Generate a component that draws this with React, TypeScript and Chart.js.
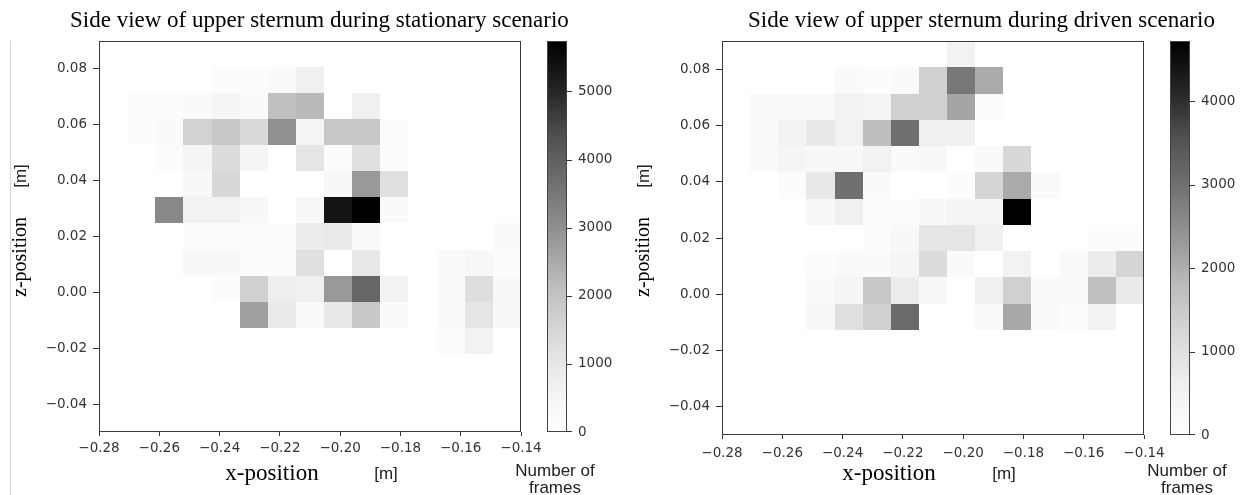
import React, { useEffect, useRef } from "react";
import { Chart, registerables } from "chart.js";

Chart.register(...registerables);

// ---------- data ----------
// histogram bin edges (15 bins on each axis)
const xBinEdges = [-0.28, -0.27067, -0.26133, -0.252, -0.24267, -0.23333, -0.224, -0.21467, -0.20533, -0.196, -0.18667, -0.17733, -0.168, -0.15867, -0.14933, -0.14];
const zBinEdges = [-0.05, -0.04067, -0.03133, -0.022, -0.01267, -0.00333, 0.006, 0.01533, 0.02467, 0.034, 0.04333, 0.05267, 0.062, 0.07133, 0.08067, 0.09];

// tick labels
const xTicks = [-0.28, -0.26, -0.24, -0.22, -0.2, -0.18, -0.16, -0.14];
const zTicks = [-0.04, -0.02, 0, 0.02, 0.04, 0.06, 0.08];
const stationaryBarTicks = [0, 1000, 2000, 3000, 4000, 5000];
const drivenBarTicks = [0, 1000, 2000, 3000, 4000];

const stationaryMax = 5740;
const drivenMax = 4720;

const stationaryTitle = "Side view of upper sternum during stationary scenario";
const drivenTitle = "Side view of upper sternum during driven scenario";

// counts (number of frames); rows from top z-bin (0.081..0.09) down to bottom (-0.05..-0.041),
// columns from x = -0.28 to x = -0.14
const stationaryCounts = [
  [0, 0, 0, 0, 0, 0, 0, 0, 0, 0, 0, 0, 0, 0, 0],
  [0, 0, 0, 0, 144, 144, 240, 718, 0, 0, 0, 0, 0, 0, 0],
  [0, 144, 144, 240, 478, 240, 2075, 2200, 0, 718, 0, 0, 0, 0, 0],
  [0, 144, 240, 1620, 1870, 1400, 3000, 478, 1870, 1870, 144, 0, 0, 0, 0],
  [0, 0, 144, 478, 1342, 478, 0, 1061, 144, 1217, 144, 0, 0, 0, 0],
  [0, 0, 0, 335, 1460, 0, 0, 0, 335, 2815, 1217, 0, 0, 0, 0],
  [0, 0, 3163, 622, 622, 335, 0, 335, 5355, 5740, 240, 0, 0, 0, 0],
  [0, 0, 0, 144, 144, 144, 144, 843, 900, 240, 0, 0, 0, 0, 240],
  [0, 0, 0, 335, 335, 144, 144, 1217, 0, 967, 0, 0, 240, 335, 144],
  [0, 0, 0, 0, 144, 1665, 780, 718, 2815, 3870, 622, 0, 240, 1280, 335],
  [0, 0, 0, 0, 0, 2685, 900, 240, 967, 1870, 240, 0, 240, 1061, 335],
  [0, 0, 0, 0, 0, 0, 0, 0, 0, 0, 0, 0, 144, 600, 0],
  [0, 0, 0, 0, 0, 0, 0, 0, 0, 0, 0, 0, 0, 0, 0],
  [0, 0, 0, 0, 0, 0, 0, 0, 0, 0, 0, 0, 0, 0, 0],
  [0, 0, 0, 0, 0, 0, 0, 0, 0, 0, 0, 0, 0, 0, 0],
];

const drivenCounts = [
  [0, 0, 0, 0, 0, 0, 0, 0, 510, 0, 0, 0, 0, 0, 0],
  [0, 0, 0, 0, 197, 118, 197, 1369, 2884, 2058, 0, 0, 0, 0, 0],
  [0, 197, 197, 197, 510, 392, 1369, 1369, 2133, 118, 0, 0, 0, 0, 0],
  [0, 197, 510, 793, 510, 1750, 3002, 590, 590, 0, 0, 0, 0, 0, 0],
  [0, 197, 392, 274, 274, 510, 197, 274, 0, 197, 1199, 0, 0, 0, 0],
  [0, 0, 118, 793, 3002, 197, 0, 0, 118, 1265, 2058, 197, 0, 0, 0],
  [0, 0, 0, 274, 590, 118, 118, 274, 392, 392, 4720, 0, 0, 0, 0],
  [0, 0, 0, 0, 0, 118, 274, 873, 873, 590, 0, 0, 0, 118, 118],
  [0, 0, 0, 118, 197, 197, 392, 1104, 197, 0, 510, 0, 197, 694, 1265],
  [0, 0, 0, 197, 392, 1539, 694, 274, 0, 590, 1369, 197, 197, 1709, 750],
  [0, 0, 0, 274, 1001, 1369, 3110, 0, 0, 197, 2086, 197, 118, 510, 0],
  [0, 0, 0, 0, 0, 0, 0, 0, 0, 0, 0, 0, 0, 0, 0],
  [0, 0, 0, 0, 0, 0, 0, 0, 0, 0, 0, 0, 0, 0, 0],
  [0, 0, 0, 0, 0, 0, 0, 0, 0, 0, 0, 0, 0, 0, 0],
  [0, 0, 0, 0, 0, 0, 0, 0, 0, 0, 0, 0, 0, 0, 0],
];

// ---------- styling ----------
const GREYS = ["#ffffff", "#f0f0f0", "#d9d9d9", "#bdbdbd", "#969696", "#737373", "#525252", "#252525", "#000000"];
const hexToRgb = (h: string) => [parseInt(h.slice(1, 3), 16), parseInt(h.slice(3, 5), 16), parseInt(h.slice(5, 7), 16)];
const GREYS_RGB = GREYS.map(hexToRgb);
function greys(t: number) {
  const tt = Math.max(0, Math.min(1, t)) * (GREYS_RGB.length - 1);
  const i = Math.min(Math.floor(tt), GREYS_RGB.length - 2);
  const f = tt - i;
  const a = GREYS_RGB[i], b = GREYS_RGB[i + 1];
  const c = a.map((v, k) => Math.round(v + (b[k] - v) * f));
  return `rgb(${c[0]},${c[1]},${c[2]})`;
}

const TICK_COLOR = "#333333";
const SPINE_COLOR = "#3a3a3a";
const SERIF = '"Liberation Serif", "Times New Roman", serif';
const LABEL_SANS = '"Liberation Sans", Arial, sans-serif';

const fmt = (v: number) => {
  const s = Math.abs(v) < 1e-9 ? "0.00" : v.toFixed(2);
  return s.replace("-", "\u2212");
};

type PanelLayout = {
  key: string;
  title: string;
  counts: number[][];
  vmax: number;
  barTicks: number[];
  xAxisHeight: number;
  xTickPad: number;
  titleX: number;
  xLabelX: number;
  xUnitX: number;
  framesX: number;
  leftRule: boolean;
};

const panels: PanelLayout[] = [
  {
    key: "stationary", title: stationaryTitle, counts: stationaryCounts, vmax: stationaryMax,
    barTicks: stationaryBarTicks, xAxisHeight: 63, xTickPad: 4,
    titleX: 70, xLabelX: 272, xUnitX: 386, framesX: 555, leftRule: true,
  },
  {
    key: "driven", title: drivenTitle, counts: drivenCounts, vmax: drivenMax,
    barTicks: drivenBarTicks, xAxisHeight: 60, xTickPad: 6,
    titleX: 125, xLabelX: 266, xUnitX: 381, framesX: 564, leftRule: false,
  },
];

const PANEL_W = 623;
const PANEL_H = 495;

const zeroPad = (s: any) => {
  s.paddingTop = 0;
  s.paddingBottom = 0;
  s.paddingLeft = 0;
  s.paddingRight = 0;
};

function makePlugin(p: PanelLayout) {
  return {
    id: "heat_" + p.key,
    beforeDatasetsDraw(chart: any) {
      const { ctx, chartArea: ca, scales } = chart;
      const xs = scales.x, ys = scales.y;
      ctx.save();
      ctx.beginPath();
      ctx.rect(ca.left, ca.top, ca.right - ca.left, ca.bottom - ca.top);
      ctx.clip();
      const n = p.counts.length;
      for (let r = 0; r < n; r++) {
        const zi = n - 1 - r;
        const row = p.counts[r];
        for (let c = 0; c < row.length; c++) {
          const v = row[c];
          if (!v) continue;
          const x0 = Math.round(xs.getPixelForValue(xBinEdges[c]));
          const x1 = Math.round(xs.getPixelForValue(xBinEdges[c + 1]));
          const y0 = Math.round(ys.getPixelForValue(zBinEdges[zi + 1]));
          const y1 = Math.round(ys.getPixelForValue(zBinEdges[zi]));
          ctx.fillStyle = greys(v / p.vmax);
          ctx.fillRect(x0, y0, x1 - x0, y1 - y0);
        }
      }
      ctx.restore();
    },
    afterDraw(chart: any) {
      const { ctx, chartArea: ca, scales } = chart;
      ctx.save();
      // spines
      ctx.strokeStyle = SPINE_COLOR;
      ctx.lineWidth = 1;
      const L = Math.round(ca.left) + 0.5, T = Math.round(ca.top) + 0.5;
      const R = Math.round(ca.right) - 0.5, B = Math.round(ca.bottom) - 0.5;
      ctx.strokeRect(L, T, R - L, B - T);

      // colorbar
      const cb = scales.cb;
      const cx0 = Math.round(ca.right) + 26;
      const cw = 20;
      const top = Math.round(cb.getPixelForValue(p.vmax));
      const bot = Math.round(cb.getPixelForValue(0));
      for (let y = top; y < bot; y++) {
        const v = cb.getValueForPixel(y + 0.5);
        ctx.fillStyle = greys(v / p.vmax);
        ctx.fillRect(cx0, y, cw, 1);
      }
      ctx.strokeStyle = "#444444";
      ctx.strokeRect(cx0 + 0.5, top + 0.5, cw - 1, bot - top - 1);
      ctx.strokeStyle = TICK_COLOR;
      for (const v of p.barTicks) {
        const y = Math.round(cb.getPixelForValue(v)) + (v === 0 ? -0.5 : 0.5);
        ctx.beginPath();
        ctx.moveTo(cx0 + cw, y);
        ctx.lineTo(cx0 + cw + 5, y);
        ctx.stroke();
      }

      // title
      ctx.fillStyle = "#000000";
      ctx.textBaseline = "alphabetic";
      ctx.textAlign = "left";
      ctx.font = `23px ${SERIF}`;
      ctx.fillText(p.title, p.titleX, 27);

      // x label
      ctx.textAlign = "center";
      ctx.font = `23px ${SERIF}`;
      ctx.fillText("x-position", p.xLabelX, 480);
      ctx.fillStyle = "#222222";
      ctx.font = `17px ${LABEL_SANS}`;
      ctx.fillText("[m]", p.xUnitX, 479);

      // colorbar label
      ctx.font = `17px ${LABEL_SANS}`;
      ctx.fillText("Number of", p.framesX, 476);
      ctx.fillText("frames", p.framesX, 493);

      // y label (rotated)
      ctx.save();
      ctx.translate(26, 257);
      ctx.rotate(-Math.PI / 2);
      ctx.fillStyle = "#000000";
      ctx.font = `20px ${SERIF}`;
      ctx.fillText("z-position", 0, 0);
      ctx.restore();
      ctx.save();
      ctx.translate(26, 176);
      ctx.rotate(-Math.PI / 2);
      ctx.fillStyle = "#222222";
      ctx.font = `17px ${LABEL_SANS}`;
      ctx.fillText("[m]", 0, 0);
      ctx.restore();

      if (p.leftRule) {
        ctx.strokeStyle = "#d6d6d6";
        ctx.beginPath();
        ctx.moveTo(10.5, 41);
        ctx.lineTo(10.5, PANEL_H);
        ctx.stroke();
      }
      ctx.restore();
    },
  };
}

function HeatPanel({ p }: { p: PanelLayout }) {
  const ref = useRef<HTMLCanvasElement | null>(null);
  useEffect(() => {
    if (!ref.current) return;
    const tickFont = { family: "DejaVu Sans", size: 13.5 };
    const cellPoints: { x: number; y: number }[] = [];
    const n = p.counts.length;
    p.counts.forEach((row, r) =>
      row.forEach((v, c) => {
        if (v) cellPoints.push({ x: (xBinEdges[c] + xBinEdges[c + 1]) / 2, y: (zBinEdges[n - 1 - r] + zBinEdges[n - r]) / 2 });
      })
    );
    const chart = new Chart(ref.current, {
      type: "scatter",
      data: { datasets: [{ data: cellPoints, pointRadius: 0, showLine: false }] },
      options: {
        animation: false,
        responsive: false,
        events: [],
        layout: { autoPadding: false, padding: { top: 41, left: 0, right: 0, bottom: 0 } },
        plugins: { legend: { display: false }, tooltip: { enabled: false }, title: { display: false } },
        scales: {
          x: {
            type: "linear", position: "bottom", min: -0.28, max: -0.14,
            grid: { drawOnChartArea: false, drawTicks: true, tickLength: 4, color: TICK_COLOR },
            border: { display: false },
            ticks: { font: tickFont, color: TICK_COLOR, padding: p.xTickPad, maxRotation: 0, autoSkip: false, callback: (v: any) => fmt(Number(v)) },
            afterBuildTicks: (s: any) => { s.ticks = xTicks.map((v) => ({ value: v })); },
            afterFit: (s: any) => { s.height = p.xAxisHeight; zeroPad(s); },
          },
          y: {
            type: "linear", position: "left", min: -0.05, max: 0.09,
            grid: { drawOnChartArea: false, drawTicks: true, tickLength: 6, color: TICK_COLOR },
            border: { display: false },
            ticks: { font: tickFont, color: TICK_COLOR, padding: 6, autoSkip: false, callback: (v: any) => fmt(Number(v)) },
            afterBuildTicks: (s: any) => { s.ticks = zTicks.map((v) => ({ value: v })); },
            afterFit: (s: any) => { s.width = 99; zeroPad(s); },
          },
          cb: {
            type: "linear", position: "right", min: 0, max: p.vmax,
            grid: { display: false, drawOnChartArea: false, drawTicks: false },
            border: { display: false },
            ticks: { font: tickFont, color: TICK_COLOR, padding: 57, autoSkip: false, callback: (v: any) => String(v) },
            afterBuildTicks: (s: any) => { s.ticks = p.barTicks.map((v) => ({ value: v })); },
            afterFit: (s: any) => { s.width = PANEL_W - 521; zeroPad(s); },
          },
        },
      } as any,
      plugins: [makePlugin(p)],
    });
    return () => chart.destroy();
  }, [p]);
  return <canvas ref={ref} width={PANEL_W} height={PANEL_H} style={{ display: "block", width: PANEL_W, height: PANEL_H }} />;
}

export default function App() {
  return (
    <div style={{ position: "absolute", left: 0, top: 0, width: 1246, height: 495, background: "#ffffff", display: "flex" }}>
      {panels.map((p) => (
        <HeatPanel key={p.key} p={p} />
      ))}
    </div>
  );
}
